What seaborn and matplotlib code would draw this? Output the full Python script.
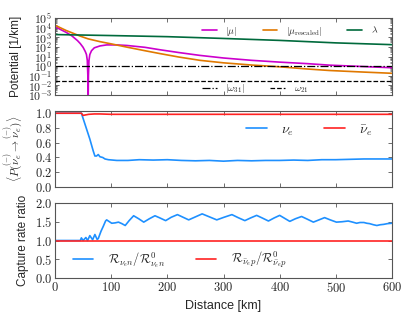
import numpy as np
import pandas as pd
import seaborn as sns
import matplotlib.pyplot as plt
from matplotlib.ticker import FuncFormatter, FixedLocator

# --- top panel: potentials [1/km] ---
x_mu = [0, 10, 20, 30, 40, 45, 50, 54, 56, 57.5, 58.5, 59, 59.5, 60.5, 62, 65, 70, 80,
        92, 110, 128, 160, 187, 220, 258, 300, 350, 400, 450, 489, 550, 600]
mu_vals = [12600, 6300, 3200, 1400, 450, 220, 90, 32, 16, 4, 0.1, 1e-4, 0.1, 4, 16, 40, 80, 125,
           160, 160, 140, 90, 50, 26, 13, 7, 4, 2.6, 1.8, 1.26, 0.9, 0.68]

x_resc = [0, 20, 33, 45, 59, 80, 101, 130, 160, 187, 220, 258, 300, 350, 400, 450, 489, 550, 600]
resc_vals = [17800, 5000, 2500, 1300, 680, 350, 200, 89, 40, 20, 8.9, 4.0, 2.2, 1.3, 0.85,
             0.5, 0.35, 0.24, 0.18]

x_lam = [0, 100, 200, 300, 400, 500, 600]
lam_vals = [1900, 1500, 1150, 750, 470, 260, 170]

omega31 = 1.0
omega21 = 0.032

# --- middle panel: survival probability ---
x_nue = [0, 47, 50, 53, 56, 59, 62, 65, 68, 71, 74, 77, 80, 85, 89, 95, 110, 130, 150, 175,
         200, 225, 250, 275, 300, 325, 350, 375, 400, 425, 450, 475, 500, 525, 550, 575, 600]
p_nue = [1.0, 1.0, 0.93, 0.86, 0.79, 0.72, 0.65, 0.57, 0.49, 0.42, 0.42, 0.44, 0.41, 0.40, 0.38,
         0.37, 0.36, 0.36, 0.37, 0.365, 0.37, 0.36, 0.355, 0.36, 0.35, 0.36, 0.355, 0.36, 0.36,
         0.365, 0.36, 0.37, 0.37, 0.375, 0.38, 0.38, 0.38]

x_nueb = [0, 47, 50, 53, 60, 70, 80, 100, 200, 300, 400, 500, 600]
p_nueb = [1.0, 1.0, 0.97, 0.975, 0.985, 0.99, 0.99, 0.985, 0.985, 0.985, 0.985, 0.985, 0.985]

# --- bottom panel: capture rate ratio ---
x_rn = [0, 45, 47, 50, 55, 58, 62, 67, 71, 75, 77, 82, 86, 90, 92, 96, 101, 107, 113, 119, 125,
        132, 140, 149, 158, 168, 178, 187, 197, 207, 218, 228, 238, 250, 262, 275, 288, 301,
        315, 326, 338, 348, 359, 369, 380, 390, 400, 409, 418, 428, 439, 449, 460, 470, 480,
        490, 501, 511, 522, 530, 537, 543, 550, 555, 560, 567, 573, 579, 585, 592, 600]
r_n = [1.0, 1.0, 1.07, 1.0, 1.08, 1.0, 1.13, 1.02, 1.16, 1.03, 1.05, 1.25, 1.38, 1.52, 1.55, 1.51,
       1.46, 1.47, 1.49, 1.45, 1.40, 1.53, 1.66, 1.58, 1.49, 1.58, 1.66, 1.60, 1.53, 1.62, 1.69,
       1.62, 1.55, 1.63, 1.71, 1.63, 1.55, 1.62, 1.69, 1.61, 1.53, 1.60, 1.67, 1.60, 1.52, 1.60,
       1.67, 1.59, 1.51, 1.58, 1.64, 1.57, 1.49, 1.55, 1.61, 1.55, 1.49, 1.50, 1.52, 1.49, 1.46,
       1.48, 1.48, 1.46, 1.45, 1.42, 1.40, 1.42, 1.43, 1.45, 1.46]

x_rp = [0, 600]
r_p = [1.0, 1.0]

sns.set_style('ticks')
plt.rcParams['font.family'] = ['Liberation Sans', 'DejaVu Sans']
plt.rcParams['mathtext.fontset'] = 'cm'
plt.rcParams['axes.edgecolor'] = '#555555'
plt.rcParams['axes.linewidth'] = 0.8

c_mag = '#cc00cc'
c_org = '#e07800'
c_grn = '#006a3c'
c_blu = '#1e90ff'
c_red = '#ff2222'

fig = plt.figure(figsize=(4.15, 3.24), dpi=100)
W, H = 415, 324
def pos(top, bot):
    return [55 / W, 1 - bot / H, 337 / W, (bot - top) / H]

ax1 = fig.add_axes(pos(18, 95))
ax2 = fig.add_axes(pos(111, 187))
ax3 = fig.add_axes(pos(203, 278))

lw = 1.2
sns.lineplot(x=x_mu, y=mu_vals, ax=ax1, color=c_mag, lw=lw, estimator=None, sort=False, label=r'$|\mu|$')
sns.lineplot(x=x_resc, y=resc_vals, ax=ax1, color=c_org, lw=lw, estimator=None, label=r'$|\mu_{\mathrm{rescaled}}|$')
sns.lineplot(x=x_lam, y=lam_vals, ax=ax1, color=c_grn, lw=lw, estimator=None, label=r'$\lambda$')
l31 = ax1.axhline(omega31, color='k', lw=0.9, ls='-.')
l21 = ax1.axhline(omega21, color='k', lw=0.9, ls='--')
ax1.set_yscale('log')
ax1.set_ylim(1e-3, 1e5)
ax1.yaxis.set_major_locator(FixedLocator([10.0 ** k for k in range(-3, 6)]))
ax1.yaxis.set_major_formatter(FuncFormatter(lambda v, p: r'$10^{%d}$' % round(np.log10(v))))
ax1.set_ylabel('Potential [1/km]', fontsize=8.5)
ax1.yaxis.set_label_coords(-0.097, 0.5)
h, l = ax1.get_legend_handles_labels()
leg1 = ax1.legend(h, l, ncol=3, loc='center left', bbox_to_anchor=(0.41, 0.83), frameon=False,
                  fontsize=7, handlelength=1.5, columnspacing=2.6, handletextpad=0.9)
ax1.add_artist(leg1)
ax1.legend([l31, l21], [r'$|\omega_{31}|$', r'$\omega_{21}$'], ncol=2, loc='center left',
           bbox_to_anchor=(0.41, 0.08), frameon=False, fontsize=7, handlelength=1.5,
           columnspacing=2.6, handletextpad=0.9)

sns.lineplot(x=x_nue, y=p_nue, ax=ax2, color=c_blu, lw=lw, estimator=None, label=r'$\nu_e$')
sns.lineplot(x=x_nueb, y=p_nueb, ax=ax2, color=c_red, lw=lw, estimator=None, label=r'$\bar{\nu}_e$')
ax2.set_ylim(0, 1.03)
ax2.set_yticks([0, 0.2, 0.4, 0.6, 0.8, 1.0])
ax2.yaxis.set_major_formatter(FuncFormatter(lambda v, p: r'$%.1f$' % v))
ax2.set_ylabel(r'$\langle P(\overset{(-)}{\nu_e}\rightarrow\overset{(-)}{\nu_e})\rangle$', fontsize=8)
ax2.yaxis.set_label_coords(-0.088, 0.5)
ax2.legend(ncol=2, loc='center left', bbox_to_anchor=(0.53, 0.75), frameon=False, fontsize=10,
           handlelength=1.5, columnspacing=2.2, handletextpad=1.0)

sns.lineplot(x=x_rn, y=r_n, ax=ax3, color=c_blu, lw=lw, estimator=None,
             label=r'$\mathcal{R}_{\nu_e n}/\mathcal{R}^0_{\nu_e n}$')
sns.lineplot(x=x_rp, y=r_p, ax=ax3, color=c_red, lw=lw, estimator=None,
             label=r'$\mathcal{R}_{\bar{\nu}_e p}/\mathcal{R}^0_{\bar{\nu}_e p}$')
ax3.set_ylim(0, 2)
ax3.set_yticks([0, 0.5, 1.0, 1.5, 2.0])
ax3.yaxis.set_major_formatter(FuncFormatter(lambda v, p: r'$%.1f$' % v))
ax3.set_ylabel('Capture rate ratio', fontsize=8.5)
ax3.yaxis.set_label_coords(-0.078, 0.5)
ax3.set_xlabel('Distance [km]', fontsize=9)
ax3.legend(ncol=2, loc='center left', bbox_to_anchor=(0.02, 0.24), frameon=False, fontsize=9,
           handlelength=1.6, columnspacing=2.5, handletextpad=1.2)

for ax in (ax1, ax2, ax3):
    ax.set_xlim(0, 600)
    ax.set_xticks([0, 100, 200, 300, 400, 500, 600])
    ax.tick_params(direction='in', top=True, right=True, labelsize=9, length=3, width=0.6,
                   color='#555555', pad=2)
    ax.tick_params(which='minor', direction='in', right=True, length=1.5, width=0.5, color='#555555')
ax1.tick_params(axis='y', labelsize=8.5)
ax1.tick_params(labelbottom=False)
ax2.tick_params(labelbottom=False)
ax3.xaxis.set_major_formatter(FuncFormatter(lambda v, p: r'$%d$' % v))
ax1.yaxis.set_minor_locator(FixedLocator([m * 10.0 ** k for k in range(-3, 5) for m in range(2, 10)]))
ax1.yaxis.set_minor_formatter(FuncFormatter(lambda v, p: ''))

fig.savefig('out.png', dpi=100)
